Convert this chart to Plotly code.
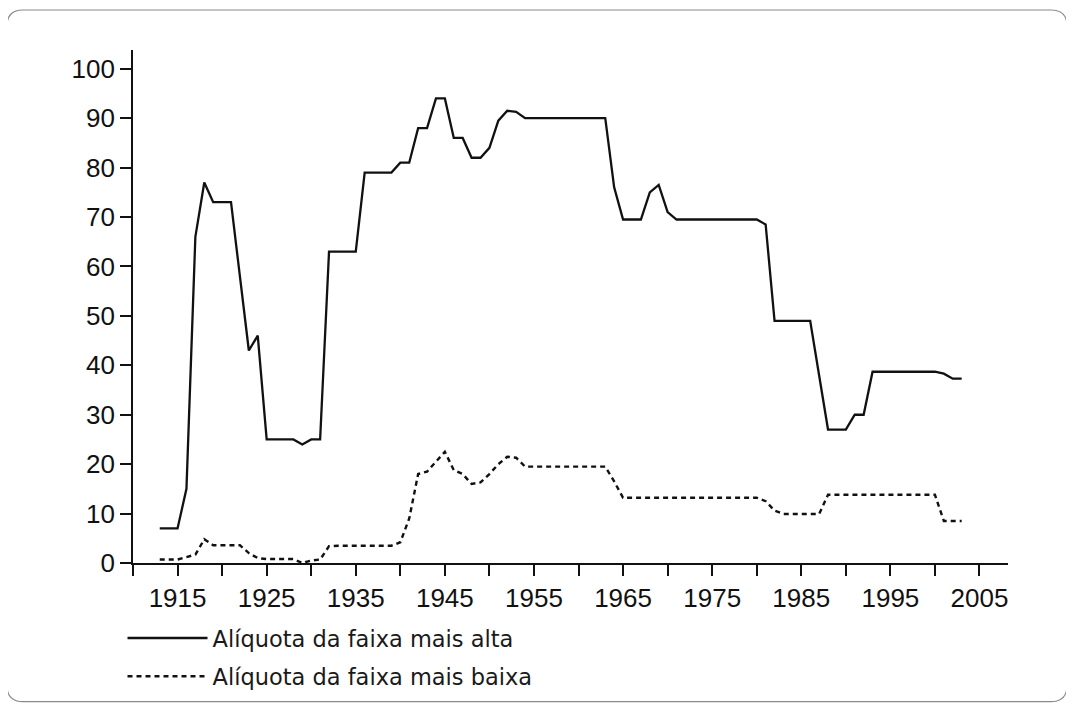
import plotly.graph_objects as go

# ---- data ----
years_top = list(range(1913, 2004))
top_rate = [
    7, 7, 7, 15, 66, 77, 73, 73, 73, 58,          # 1913-1922
    43, 46, 25, 25, 25, 25, 24, 25, 25, 63,       # 1923-1932
    63, 63, 63, 79, 79, 79, 79, 81, 81, 88,       # 1933-1942
    88, 94, 94, 86, 86, 82, 82, 84, 89.5, 91.5,   # 1943-1952
    91.3, 90, 90, 90, 90, 90, 90, 90, 90, 90,     # 1953-1962
    90, 76, 69.5, 69.5, 69.5, 75, 76.5, 71, 69.5, 69.5,  # 1963-1972
    69.5, 69.5, 69.5, 69.5, 69.5, 69.5, 69.5, 69.5, 68.5, 49,  # 1973-1982
    49, 49, 49, 49, 38, 27, 27, 27, 30, 30,       # 1983-1992
    38.7, 38.7, 38.7, 38.7, 38.7, 38.7, 38.7, 38.7, 38.3, 37.3,  # 1993-2002
    37.3,                                          # 2003
]

years_low = list(range(1913, 2004))
low_rate = [
    0.7, 0.7, 0.7, 1.2, 1.7, 4.8, 3.6, 3.6, 3.6, 3.6,   # 1913-1922
    2.0, 1.0, 0.8, 0.8, 0.8, 0.8, 0.0, 0.5, 0.7, 3.4,   # 1923-1932
    3.5, 3.5, 3.5, 3.5, 3.5, 3.5, 3.5, 4.2, 9.0, 18.0,  # 1933-1942
    18.5, 20.5, 22.5, 18.8, 18.0, 16.0, 16.3, 18.0, 20.0, 21.5,  # 1943-1952
    21.3, 19.5, 19.5, 19.5, 19.5, 19.5, 19.5, 19.5, 19.5, 19.5,  # 1953-1962
    19.5, 16.5, 13.2, 13.2, 13.2, 13.2, 13.2, 13.2, 13.2, 13.2,  # 1963-1972
    13.2, 13.2, 13.2, 13.2, 13.2, 13.2, 13.2, 13.2, 12.5, 10.6,  # 1973-1982
    9.9, 9.9, 9.9, 9.9, 9.9, 13.8, 13.8, 13.8, 13.8, 13.8,       # 1983-1992
    13.8, 13.8, 13.8, 13.8, 13.8, 13.8, 13.8, 13.8, 8.5, 8.5,    # 1993-2002
    8.5,                                                          # 2003
]

series_names = ["Alíquota da faixa mais alta", "Alíquota da faixa mais baixa"]

x_tick_vals = list(range(1910, 2006, 5))
x_tick_text = [str(v) if (v - 1915) % 10 == 0 else "" for v in x_tick_vals]
y_tick_vals = list(range(0, 101, 10))

# ---- figure (page has an 8px body margin, so the figure is offset) ----
OFF = 8
W, H = 1074 - OFF, 712 - OFF
L, R, T = 133 - OFF, 66, 50 - OFF
B = H - (563.3 - OFF)

fig = go.Figure()
fig.add_trace(go.Scatter(
    x=years_top, y=top_rate, mode="lines", name=series_names[0],
    line=dict(color="#111111", width=2.3), legendgroup="a",
))
fig.add_trace(go.Scatter(
    x=years_low, y=low_rate, mode="lines", name=series_names[1],
    line=dict(color="#111111", width=2.4, dash="5px,4px"), legendgroup="b",
))

# rounded frame around the whole chart (paper coordinates)
pw, ph = W - L - R, H - T - B
def px2paper(px, py):
    return (px - OFF - L) / pw, (H - B - (py - OFF)) / ph
x0, y1 = px2paper(7, 10)
x1, y0 = px2paper(1067, 702)
rx, ry = 16 / pw, 16 / ph
path = (f"M{x0+rx},{y1} L{x1-rx},{y1} Q{x1},{y1} {x1},{y1-ry} "
        f"L{x1},{y0+ry} Q{x1},{y0} {x1-rx},{y0} L{x0+rx},{y0} "
        f"Q{x0},{y0} {x0},{y0+ry} L{x0},{y1-ry} Q{x0},{y1} {x0+rx},{y1} Z")
fig.add_shape(type="path", path=path, xref="paper", yref="paper",
              line=dict(color="#8a8a8a", width=1.2), layer="below")

tick_font = dict(family="Liberation Sans, Arial, sans-serif", size=26, color="#111111")

fig.update_layout(
    width=W, height=H,
    margin=dict(l=L, r=R, t=T, b=B),
    paper_bgcolor="white", plot_bgcolor="white",
    showlegend=True,
    legend=dict(
        x=-0.012, y=-0.105, xanchor="left", yanchor="top",
        orientation="v", bgcolor="rgba(0,0,0,0)",
        font=dict(family="DejaVu Sans, sans-serif", size=22.5, color="#1a1a1a"),
        itemwidth=80, tracegroupgap=6,
    ),
    xaxis=dict(
        range=[1910, 2008.2], tickmode="array", tickvals=x_tick_vals,
        ticktext=x_tick_text, ticks="outside", ticklen=11, tickwidth=1.6,
        tickcolor="#111111", showline=True, linecolor="#111111", linewidth=1.8,
        showgrid=False, zeroline=False, tickfont=tick_font,
    ),
    yaxis=dict(
        range=[0, 103.8], tickmode="array", tickvals=y_tick_vals,
        ticks="outside", ticklen=11, tickwidth=1.6, tickcolor="#111111",
        showline=True, linecolor="#111111", linewidth=1.8,
        showgrid=False, zeroline=False, tickfont=tick_font,
    ),
)

fig.write_html("out.html")
